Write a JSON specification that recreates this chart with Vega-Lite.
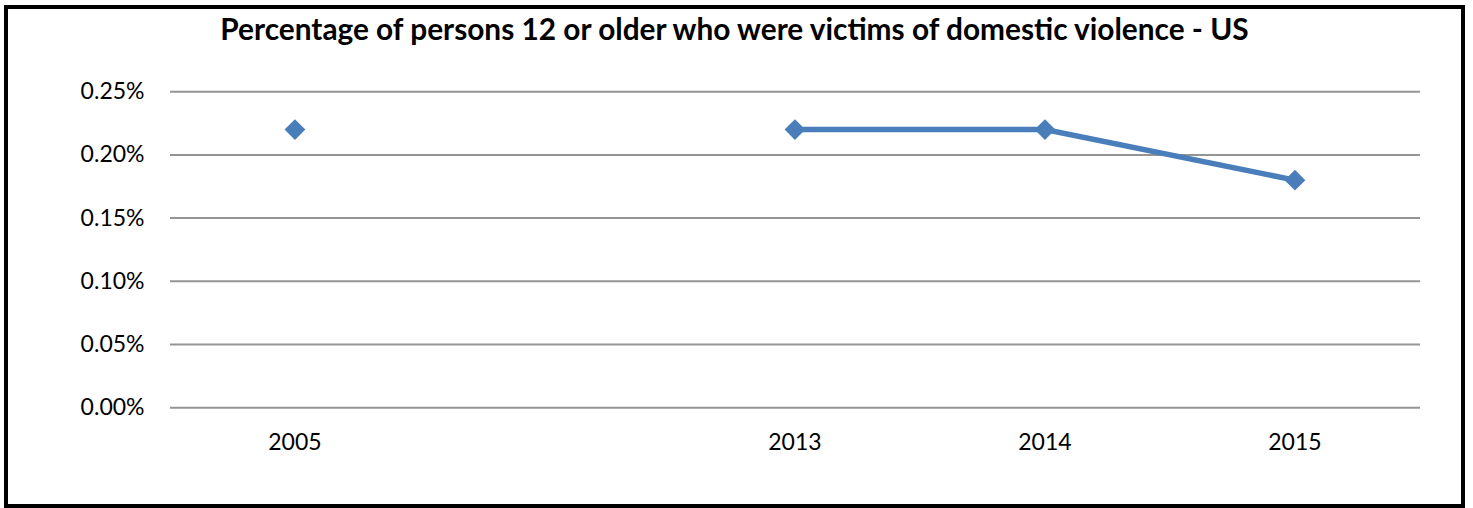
{
  "$schema": "https://vega.github.io/schema/vega-lite/v6.json",
  "width": 1457,
  "height": 499,
  "autosize": {"type": "none"},
  "padding": {"left": 6, "top": 7, "right": 10, "bottom": 2},
  "background": "white",
  "config": {
    "view": {"stroke": "black", "strokeWidth": 4},
    "font": "Lato"
  },
  "title": {
    "text": "Percentage of persons 12 or older who were victims of domestic violence - US",
    "font": "Lato",
    "fontSize": 29.8,
    "fontWeight": "bold",
    "color": "black",
    "anchor": "middle",
    "frame": "group",
    "offset": -38.5
  },
  "datasets": {
    "series": [
      {"year": "2005", "pct": 0.0022},
      {"year": " ", "pct": null},
      {"year": "2013", "pct": 0.0022},
      {"year": "2014", "pct": 0.0022},
      {"year": "2015", "pct": 0.0018}
    ],
    "grid": [
      {"tick": 0},
      {"tick": 0.0005},
      {"tick": 0.001},
      {"tick": 0.0015},
      {"tick": 0.002},
      {"tick": 0.0025}
    ]
  },
  "resolve": {"scale": {"x": "independent"}, "axis": {"x": "independent"}},
  "layer": [
    {
      "data": {"name": "grid"},
      "mark": {"type": "rule", "color": "#949494", "strokeWidth": 2},
      "encoding": {
        "y": {"field": "tick", "type": "quantitative", "scale": {"domain": [-0.000778, 0.00317], "nice": false, "zero": false},
          "axis": {"title": null, "domain": false, "ticks": false, "grid": false, "format": ".2%", "values": [0, 0.0005, 0.001, 0.0015, 0.002, 0.0025], "labelFont": "Lato", "labelFontSize": 23, "labelColor": "black", "labelPadding": 26, "offset": -164}},
        "x": {"datum": 0, "type": "quantitative", "scale": {"domain": [-0.656, 5.172], "nice": false, "zero": false}, "axis": null},
        "x2": {"datum": 5}
      }
    },
    {
      "data": {"name": "series"},
      "layer": [
        {
          "mark": {"type": "line", "color": "#4A7EBB", "strokeWidth": 5.5, "invalid": "break-paths-filter-domains"},
          "encoding": {
            "x": {"field": "year", "type": "ordinal", "bandPosition": 0.5,
              "scale": {"type": "band", "domain": ["2005", " ", "2013", "2014", "2015"], "paddingInner": 0, "paddingOuter": 0.414, "align": 0.792},
              "axis": {"title": null, "domain": false, "ticks": false, "grid": false, "labelAngle": 0, "labelFont": "Lato", "labelFontSize": 23, "labelColor": "black", "labelPadding": 24, "offset": -98.3}},
            "y": {"field": "pct", "type": "quantitative",
              "scale": {"domain": [-0.000778, 0.00317], "nice": false, "zero": false}}
          }
        },
        {
          "mark": {"type": "point", "shape": "diamond", "filled": true, "size": 430, "color": "#4A7EBB", "opacity": 1},
          "encoding": {
            "x": {"field": "year", "type": "ordinal", "bandPosition": 0.5,
              "scale": {"type": "band", "domain": ["2005", " ", "2013", "2014", "2015"], "paddingInner": 0, "paddingOuter": 0.414, "align": 0.792}},
            "y": {"field": "pct", "type": "quantitative",
              "scale": {"domain": [-0.000778, 0.00317], "nice": false, "zero": false}}
          }
        }
      ]
    }
  ]
}
